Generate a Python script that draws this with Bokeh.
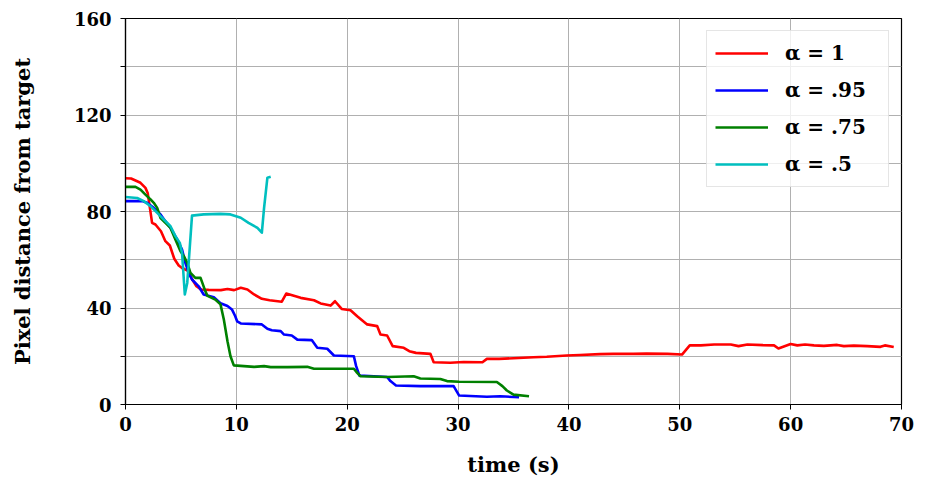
from bokeh.plotting import figure
from bokeh.models import Range1d, FixedTicker, Legend, LegendItem
from bokeh.embed import file_html
from bokeh.resources import INLINE

# ---- data ----
red_x = [0, 0.5, 1.35, 1.8, 2.0, 2.4, 2.7, 3.2, 3.6, 4.0, 4.4, 4.8, 5.1, 5.6, 6.0, 6.4, 6.8, 7.5, 8.6, 9.2,
         9.8, 10.4, 11.0, 11.6, 12.3, 13.0, 14.1, 14.5, 15.8, 17.0, 17.6, 18.5, 18.9, 19.5, 20.3, 20.9, 21.8,
         22.7, 23.0, 23.6, 24.1, 25.1, 25.6, 26.2, 27.5, 27.8, 29.3, 30.5, 32.2, 32.6, 33.7, 35.0, 36.8, 38.0,
         39.8, 41.0, 42.8, 44.0, 45.8, 47.0, 48.9, 50.2, 50.9, 51.9, 53.1, 54.6, 55.3, 56.1, 57.5, 58.5, 58.9,
         60.0, 60.6, 61.3, 62.1, 63.0, 64.2, 64.8, 65.7, 66.9, 68.1, 68.5, 69.3]
red_y = [93.8, 93.7, 91.9, 89.8, 87.7, 75.3, 74.6, 71.8, 67.7, 65.9, 60.4, 57.6, 56.6, 55.5, 52.0, 49.0, 47.7,
         47.5, 47.4, 47.9, 47.4, 48.4, 47.7, 45.6, 43.8, 43.2, 42.6, 46.0, 44.2, 43.2, 41.9, 41.0, 42.8, 39.6,
         39.1, 36.6, 33.2, 32.5, 29.0, 28.6, 24.2, 23.5, 22.1, 21.4, 21.0, 17.5, 17.3, 17.6, 17.5, 18.9, 18.9,
         19.2, 19.6, 19.8, 20.3, 20.5, 20.9, 21.0, 21.0, 21.1, 21.0, 20.7, 24.5, 24.5, 24.9, 24.9, 24.2, 24.9,
         24.6, 24.5, 23.2, 25.1, 24.5, 24.9, 24.5, 24.3, 24.7, 24.2, 24.4, 24.2, 23.9, 24.5, 23.8]

blue_x = [0, 1.5, 1.95, 2.55, 3.16, 3.6, 4.06, 4.66, 5.1, 5.4, 5.7, 6.0, 6.6, 7.05, 7.97, 8.57, 9.2, 9.6, 9.9,
          10.07, 10.4, 12.3, 12.8, 13.2, 14.0, 14.3, 15.0, 15.5, 16.8, 17.3, 18.2, 18.8, 20.6, 20.8, 21.1,
          22.4, 23.6, 23.9, 24.4, 26.6, 27.8, 29.6, 30.1, 32.6, 33.8, 35.5]
blue_y = [84.3, 84.3, 83.6, 81.5, 78.8, 76.0, 73.2, 68.4, 64.2, 58.7, 54.6, 51.8, 49.0, 45.6, 44.5, 42.0, 40.8,
          39.4, 36.6, 34.5, 33.6, 33.2, 31.4, 30.8, 30.4, 29.0, 28.6, 26.9, 26.7, 23.5, 23.1, 20.3, 20.0, 16.0,
          12.0, 11.7, 11.4, 9.7, 7.9, 7.6, 7.6, 7.6, 3.7, 3.2, 3.4, 3.0]

green_x = [0, 0.9, 1.35, 1.8, 2.26, 2.55, 2.86, 3.16, 3.6, 4.06, 4.5, 4.96, 5.26, 5.57, 5.86, 6.3, 6.77, 7.2,
           7.4, 8.1, 8.57, 8.87, 9.2, 9.47, 9.77, 11.6, 12.5, 13.1, 14.6, 16.4, 17.0, 20.6, 20.9, 21.2, 23.6,
           26.0, 26.6, 28.4, 29.0, 30.1, 33.5, 34.0, 34.4, 35.0, 36.4]
green_y = [90.2, 90.2, 89.1, 87.0, 85.0, 83.6, 81.5, 77.3, 75.3, 73.2, 68.4, 63.5, 61.5, 58.7, 54.6, 52.5, 52.5,
           47.0, 45.0, 43.5, 41.5, 35.2, 26.2, 20.0, 16.2, 15.6, 15.9, 15.5, 15.5, 15.6, 14.8, 14.8, 13.1, 11.7,
           11.4, 11.7, 10.8, 10.6, 9.7, 9.4, 9.3, 7.6, 5.8, 4.1, 3.4]

cyan_x = [0, 1.05, 1.65, 2.26, 2.86, 3.3, 4.06, 4.5, 4.9, 5.1, 5.35, 5.57, 6.0, 7.05, 8.57, 9.47, 10.4, 11.1,
          11.9, 12.3, 12.5, 12.8, 13.1]
cyan_y = [86.0, 85.6, 84.3, 82.2, 79.4, 77.4, 73.9, 69.8, 67.0, 62.9, 45.6, 50.4, 78.3, 78.8, 79.0, 78.8, 77.4,
          75.3, 73.2, 71.2, 81.5, 94.0, 94.4]

labels = ["α = 1", "α = .95", "α = .75", "α = .5"]
x_ticks = [0, 10, 20, 30, 40, 50, 60, 70]
y_ticks = [0, 40, 80, 120, 160]
y_minor = [20, 60, 100, 140]

FONT = "DejaVu Serif"

p = figure(width=916, height=482, output_backend="svg", toolbar_location=None,
           x_range=Range1d(0, 70), y_range=Range1d(0, 160),
           min_border_left=125, min_border_right=15, min_border_top=18, min_border_bottom=78)

series = [(red_x, red_y, "#ff0000"), (blue_x, blue_y, "#0000ff"),
          (green_x, green_y, "#008000"), (cyan_x, cyan_y, "#00bfbf")]
items = []
for (xs, ys, c), lab in zip(series, labels):
    r = p.line(xs, ys, line_color=c, line_width=2.6, line_join="round")
    items.append(LegendItem(label=lab, renderers=[r]))

p.xaxis.ticker = FixedTicker(ticks=x_ticks, minor_ticks=[])
p.yaxis.ticker = FixedTicker(ticks=y_ticks, minor_ticks=y_minor)

for ax in (p.xaxis, p.yaxis):
    ax.axis_line_color = "black"
    ax.axis_line_width = 1.2
    ax.major_tick_line_color = "black"
    ax.minor_tick_line_color = "black"
    ax.major_tick_out = 5
    ax.major_tick_in = 0
    ax.minor_tick_out = 5
    ax.minor_tick_in = 0
    ax.major_label_text_font = FONT
    ax.major_label_text_font_style = "bold"
    ax.major_label_text_font_size = "18px"
    ax.major_label_text_color = "black"
    ax.axis_label_text_font = FONT
    ax.axis_label_text_font_style = "bold"
    ax.axis_label_text_font_size = "21px"
    ax.axis_label_text_color = "black"

p.xaxis.axis_label = "time (s)"
p.yaxis.axis_label = "Pixel distance from target"
p.xaxis.major_label_standoff = 7
p.yaxis.major_label_standoff = 9
p.xaxis.axis_label_standoff = 18
p.yaxis.axis_label_standoff = 36

p.xgrid.grid_line_color = "#b0b0b0"
p.ygrid.grid_line_color = "#b0b0b0"
p.ygrid.minor_grid_line_color = "#b0b0b0"
p.xgrid.grid_line_width = 1
p.ygrid.grid_line_width = 1
p.ygrid.minor_grid_line_width = 1

p.outline_line_color = "black"
p.outline_line_width = 1.2
p.outline_line_alpha = 1

legend = Legend(items=items, location="top_right", margin=12)
legend.label_text_font = FONT
legend.label_text_font_style = "bold"
legend.label_text_font_size = "20px"
legend.label_text_color = "black"
legend.glyph_width = 53
legend.glyph_height = 28
legend.label_height = 28
legend.label_width = 95
legend.label_standoff = 17
legend.spacing = 9
legend.padding = 8
legend.border_line_color = "#cccccc"
legend.border_line_width = 1
legend.background_fill_alpha = 0.8
p.add_layout(legend, "center")

open("out.html", "w").write(file_html(p, INLINE))
